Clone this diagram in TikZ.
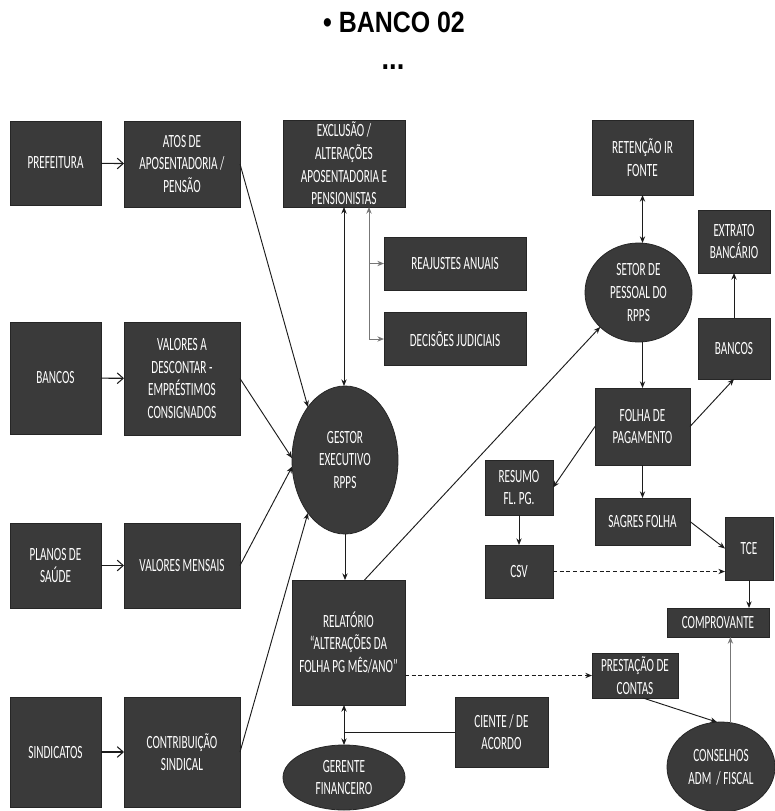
\documentclass[tikz,border=0pt]{standalone}
\usepackage{fontspec}
\setmainfont{Carlito}[FakeStretch=0.6]
\newfontfamily\titlefont{Liberation Sans}[FakeStretch=0.85]
\usetikzlibrary{arrows.meta,shapes.geometric,calc}
\definecolor{slab}{HTML}{3a3a3a}
\definecolor{ink}{HTML}{1c1c1c}
\definecolor{wire}{HTML}{777777}

\begin{document}
\begin{tikzpicture}[x=0.75pt,y=-0.75pt,font=\fontsize{14}{17}\selectfont,
  sz/.style 2 args={minimum width=#1*0.75pt,minimum height=#2*0.75pt},
  box/.style={rectangle,fill=slab,draw=black!85,line width=0.6pt,text=white,align=center,inner sep=0pt,outer sep=0pt},
  oval/.style={box,ellipse},
  feed/.style={ink,line width=0.8pt,-{Straight Barb[length=4.5pt,width=8pt]}},
  link/.style={ink,line width=0.7pt,-{Stealth[length=5pt,width=4pt]}},
  twoway/.style={link,{Stealth[length=5pt,width=4pt]}-{Stealth[length=5pt,width=4pt]}},
  soft/.style={link,wire},
  loose/.style={dash pattern=on 3pt off 2pt}]
  \useasboundingbox (0,0) rectangle (775,811);

  \node[inner sep=0pt] (title) at (394,22) {\titlefont\bfseries\fontsize{22}{22}\selectfont • BANCO 02};
  \node[inner sep=0pt] (more) at (393,67) {\titlefont\bfseries\fontsize{24}{24}\selectfont ...};

  \node[box,sz={91}{84}] (pref) at (55.5,163) {PREFEITURA};
  \node[box,sz={116}{86}] (atos) at (182,164) {ATOS DE\\APOSENTADORIA /\\PENSÃO};
  \node[box,sz={122}{87}] (excl) at (344,163.5) {EXCLUSÃO /\\ALTERAÇÕES\\APOSENTADORIA E\\PENSIONISTAS};
  \node[box,sz={142}{53}] (reaj) at (455,263.5) {REAJUSTES ANUAIS};
  \node[box,sz={142}{53}] (decis) at (455,339) {DECISÕES JUDICIAIS};
  \node[box,sz={91}{112}] (bancL) at (55.5,378) {BANCOS};
  \node[box,sz={116}{113}] (desc) at (182,378.5) {VALORES A\\DESCONTAR -\\EMPRÉSTIMOS\\CONSIGNADOS};
  \node[oval,sz={106}{148}] (gestor) at (345,460) {GESTOR\\EXECUTIVO\\RPPS};
  \node[box,sz={91}{85}] (planos) at (55.5,565.5) {PLANOS DE\\SAÚDE};
  \node[box,sz={116}{85}] (mensais) at (182,565.5) {VALORES MENSAIS};
  \node[box,sz={91}{110}] (sind) at (55.5,752) {SINDICATOS};
  \node[box,sz={116}{110}] (contrib) at (182,752) {CONTRIBUIÇÃO\\SINDICAL};
  \node[box,sz={113}{125}] (relat) at (348.5,642.5) {RELATÓRIO\\“ALTERAÇÕES DA\\FOLHA PG MÊS/ANO”};
  \node[oval,sz={122}{65}] (gerente) at (344,777.5) {GERENTE\\FINANCEIRO};
  \node[box,sz={93}{70}] (ciente) at (501.5,732) {CIENTE / DE\\ACORDO};
  \node[box,sz={101}{75}] (ret) at (642.5,157.5) {RETENÇÃO IR\\FONTE};
  \node[oval,sz={107}{99}] (setor) at (638.5,292.5) {SETOR DE\\PESSOAL DO\\RPPS};
  \node[box,sz={72}{63}] (extrato) at (734,241.5) {EXTRATO\\BANCÁRIO};
  \node[box,sz={72}{61}] (bancR) at (734,348.5) {BANCOS};
  \node[box,sz={95}{77}] (folha) at (642.5,426.5) {FOLHA DE\\PAGAMENTO};
  \node[box,sz={68}{55}] (resumo) at (519,487.5) {RESUMO\\FL. PG.};
  \node[box,sz={95}{47}] (sagres) at (642.5,521.5) {SAGRES FOLHA};
  \node[box,sz={68}{53}] (csv) at (519,571.5) {CSV};
  \node[box,sz={48}{63}] (tce) at (749,548.5) {TCE};
  \node[box,sz={102}{29}] (compr) at (718,622.5) {COMPROVANTE};
  \node[box,sz={86}{45}] (prest) at (635,675.5) {PRESTAÇÃO DE\\CONTAS};
  \node[oval,sz={108}{90}] (cons) at (721,767) {CONSELHOS\\ADM\ \ / FISCAL};

  \foreach \a/\b in {pref/atos,bancL/desc,planos/mensais,sind/contrib}
    \draw[feed] (\a) -- (\b);
  \draw[link] (atos.east) -- (gestor.125);
  \draw[link] (desc.east) -- (gestor.178);
  \draw[link] (mensais.east) -- (gestor.187);
  \draw[link] (contrib.east) -- (gestor.235);
  \draw[twoway] (excl.south) -- (excl.south |- gestor.north);
  \coordinate (fork) at (369,339);
  \draw[soft] (fork) -- (fork |- excl.south);
  \draw[soft] (fork |- reaj.west) -- (reaj.west);
  \draw[soft] (fork) -- (decis.west);
  \draw[link] (gestor.south) -- (gestor.south |- relat.north);
  \draw[link] ([xshift=12pt]relat.north) -- (setor.222);
  \draw[twoway] (ret.south) -- (ret.south |- setor.north);
  \draw[link] (folha.north |- setor.south) -- (folha.north);
  \draw[link] (folha.east) -- (bancR.south);
  \draw[link] (bancR.north) -- (extrato.south);
  \draw[link] (folha.west) -- (resumo.east);
  \draw[link] (folha.south) -- (sagres.north);
  \draw[link] (resumo.south) -- (csv.north);
  \draw[link] (sagres.east) -- (tce.west);
  \draw[link,loose] (csv.east) -- (csv.east -| tce.west);
  \draw[link] (tce.south) -- (tce.south |- compr.north);
  \draw[link,loose] (relat.east |- prest.west) -- (prest.west);
  \draw[link] ([xshift=6pt]prest.south) -- (cons.95);
  \draw[soft] (cons.78) -- (cons.78 |- compr.south);
  \draw[twoway] (relat.south -| gerente.north) -- (gerente.north);
  \draw[ink,line width=0.7pt] (ciente.west) -- (ciente.west -| gerente.north);
\end{tikzpicture}
\end{document}
